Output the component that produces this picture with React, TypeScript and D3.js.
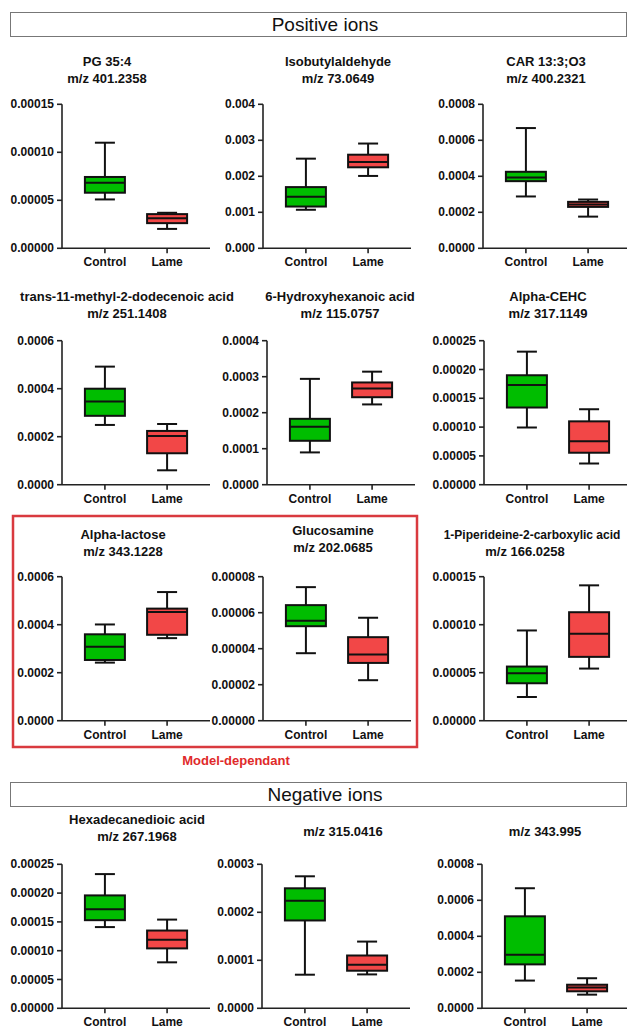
import React from "react";
import * as d3 from "d3";

// ---------- data ----------
const groups = ["Control", "Lame"];

const compoundNames = [
  "PG 35:4",
  "Isobutylaldehyde",
  "CAR 13:3;O3",
  "trans-11-methyl-2-dodecenoic acid",
  "6-Hydroxyhexanoic acid",
  "Alpha-CEHC",
  "Alpha-lactose",
  "Glucosamine",
  "1-Piperideine-2-carboxylic acid",
  "Hexadecanedioic acid",
  "",
  "",
];

const mzLabels = [
  "m/z 401.2358",
  "m/z 73.0649",
  "m/z 400.2321",
  "m/z 251.1408",
  "m/z 115.0757",
  "m/z 317.1149",
  "m/z 343.1228",
  "m/z 202.0685",
  "m/z 166.0258",
  "m/z 267.1968",
  "m/z 315.0416",
  "m/z 343.995",
];

const yTickLabels: string[][] = [
  ["0.00000", "0.00005", "0.00010", "0.00015"],
  ["0.000", "0.001", "0.002", "0.003", "0.004"],
  ["0.0000", "0.0002", "0.0004", "0.0006", "0.0008"],
  ["0.0000", "0.0002", "0.0004", "0.0006"],
  ["0.0000", "0.0001", "0.0002", "0.0003", "0.0004"],
  ["0.00000", "0.00005", "0.00010", "0.00015", "0.00020", "0.00025"],
  ["0.0000", "0.0002", "0.0004", "0.0006"],
  ["0.00000", "0.00002", "0.00004", "0.00006", "0.00008"],
  ["0.00000", "0.00005", "0.00010", "0.00015"],
  ["0.00000", "0.00005", "0.00010", "0.00015", "0.00020", "0.00025"],
  ["0.0000", "0.0001", "0.0002", "0.0003"],
  ["0.0000", "0.0002", "0.0004", "0.0006", "0.0008"],
];

// [min, q1, median, q3, max]
const controlStats: number[][] = [
  [0.0000509, 0.0000579, 0.0000684, 0.0000743, 0.00011],
  [0.00107, 0.00116, 0.00143, 0.0017, 0.00249],
  [0.000288, 0.000373, 0.000394, 0.000425, 0.000668],
  [0.000249, 0.000287, 0.000347, 0.0004, 0.000492],
  [0.0000897, 0.000122, 0.000161, 0.000183, 0.000294],
  [0.0000993, 0.000134, 0.000173, 0.00019, 0.000231],
  [0.000242, 0.000253, 0.000308, 0.00036, 0.000401],
  [0.0000375, 0.0000525, 0.0000555, 0.0000642, 0.0000742],
  [0.0000247, 0.000039, 0.0000494, 0.0000564, 0.000094],
  [0.000141, 0.000153, 0.000172, 0.000196, 0.000233],
  [0.00007, 0.000183, 0.000224, 0.00025, 0.000275],
  [0.000154, 0.000244, 0.000298, 0.000511, 0.000667],
];

const lameStats: number[][] = [
  [0.0000202, 0.0000262, 0.0000314, 0.0000356, 0.000037],
  [0.00201, 0.00225, 0.0024, 0.0026, 0.00291],
  [0.000176, 0.00023, 0.000243, 0.000258, 0.000271],
  [0.00006, 0.000131, 0.000203, 0.000224, 0.000253],
  [0.000223, 0.000243, 0.000267, 0.000284, 0.000314],
  [0.0000368, 0.0000555, 0.0000753, 0.00011, 0.000131],
  [0.000344, 0.000358, 0.000453, 0.000467, 0.000536],
  [0.0000225, 0.0000321, 0.0000368, 0.0000464, 0.0000572],
  [0.0000543, 0.0000665, 0.0000905, 0.000113, 0.000141],
  [0.0000798, 0.000104, 0.000119, 0.000135, 0.000154],
  [0.0000706, 0.0000783, 0.0000909, 0.00011, 0.000139],
  [0.0000759, 0.0000944, 0.000115, 0.000131, 0.000167],
];

const sectionLabels = ["Positive ions", "Negative ions"];
const highlightLabel = "Model-dependant";

// ---------- layout ----------
const W = 627;
const H = 1028;
const axisXs = [62, 263, 483, 62, 267, 484, 62, 263, 484, 62, 262, 482];
const rowTop = [104.3, 340.7, 576.7, 864.3];
const plotH = 144;
const axisLen = 148;
const titleCx = [107, 338, 546, 127, 340, 548, 123, 333, 532, 137, 343, 545];
const titleY1 = [65.5, 65.5, 65.5, 301, 301, 301, 539, 535, 539, 824, 836, 836];
const lineGap = 17;
const boxW = 40;
const capW = 20;
const colors = ["#00bd00", "#f24747"];
const titleFont = "'Liberation Sans', Arial, sans-serif";

function Panel({ i }: { i: number }) {
  const row = Math.floor(i / 3);
  const top = rowTop[row];
  const bottom = top + plotH;
  const ax = axisXs[i];
  const ticks = yTickLabels[i].map((t) => parseFloat(t));
  const yMax = ticks[ticks.length - 1];
  const y = d3.scaleLinear().domain([0, yMax]).range([bottom, top]);
  const x = d3.scalePoint<string>().domain(groups).range([ax, ax + axisLen]).padding(0.69);
  const stats = [controlStats[i], lameStats[i]];
  const name = compoundNames[i];
  const isPip = i === 8;
  const lines = name ? [name, mzLabels[i]] : [mzLabels[i]];

  return (
    <g>
      {lines.map((t, k) => (
        <text
          key={k}
          x={isPip && k === 1 ? 525 : titleCx[i]}
          y={titleY1[i] + k * lineGap}
          textAnchor="middle"
          fontFamily={titleFont}
          fontWeight="bold"
          fontSize={isPip && k === 0 ? 12 : 13}
          fill="#111"
        >
          {t}
        </text>
      ))}
      {/* y axis */}
      <line x1={ax} x2={ax} y1={top} y2={bottom} stroke="#222" strokeWidth={1.6} />
      {ticks.map((v, k) => (
        <g key={k}>
          <line x1={ax - 5} x2={ax} y1={y(v)} y2={y(v)} stroke="#222" strokeWidth={1.6} />
          <text
            x={ax - 8}
            y={y(v) + 4}
            textAnchor="end"
            fontFamily={titleFont}
            fontWeight="bold"
            fontSize={12}
            fill="#111"
          >
            {yTickLabels[i][k]}
          </text>
        </g>
      ))}
      {/* x axis */}
      <line x1={ax} x2={ax + axisLen} y1={bottom} y2={bottom} stroke="#222" strokeWidth={1.6} />
      {groups.map((g) => (
        <g key={g}>
          <line x1={x(g)} x2={x(g)} y1={bottom} y2={bottom + 5} stroke="#222" strokeWidth={1.6} />
          <text
            x={x(g)}
            y={bottom + 18}
            textAnchor="middle"
            fontFamily={titleFont}
            fontWeight="bold"
            fontSize={12}
            fill="#111"
          >
            {g}
          </text>
        </g>
      ))}
      {/* boxes */}
      {groups.map((g, k) => {
        const [mn, q1, md, q3, mx] = stats[k];
        const cx = x(g) as number;
        return (
          <g key={g} stroke="#111" strokeWidth={2}>
            <line x1={cx} x2={cx} y1={y(mx)} y2={y(q3)} />
            <line x1={cx} x2={cx} y1={y(q1)} y2={y(mn)} />
            <line x1={cx - capW / 2} x2={cx + capW / 2} y1={y(mx)} y2={y(mx)} />
            <line x1={cx - capW / 2} x2={cx + capW / 2} y1={y(mn)} y2={y(mn)} />
            <rect
              x={cx - boxW / 2}
              y={y(q3)}
              width={boxW}
              height={Math.max(0.5, y(q1) - y(q3))}
              fill={colors[k]}
            />
            <line x1={cx - boxW / 2} x2={cx + boxW / 2} y1={y(md)} y2={y(md)} />
          </g>
        );
      })}
    </g>
  );
}

export default function App() {
  return (
    <svg
      width={W}
      height={H}
      style={{ position: "absolute", left: 0, top: 0, background: "#fff" }}
    >
      <rect x={0} y={0} width={W} height={H} fill="#fff" />
      {[12, 782].map((by, k) => (
        <g key={k}>
          <rect x={10.5} y={by + 0.5} width={616} height={24} fill="#fff" stroke="#777" strokeWidth={1} />
          <text
            x={325}
            y={by + 19}
            textAnchor="middle"
            fontFamily={titleFont}
            fontSize={19}
            fill="#111"
          >
            {sectionLabels[k]}
          </text>
        </g>
      ))}
      <rect x={13} y={516} width={404} height={231} fill="none" stroke="#d93a3f" strokeWidth={2.5} />
      <text
        x={236}
        y={765}
        textAnchor="middle"
        fontFamily={titleFont}
        fontWeight="bold"
        fontSize={13}
        fill="#e02a2a"
      >
        {highlightLabel}
      </text>
      {compoundNames.map((_, i) => (
        <Panel key={i} i={i} />
      ))}
    </svg>
  );
}
